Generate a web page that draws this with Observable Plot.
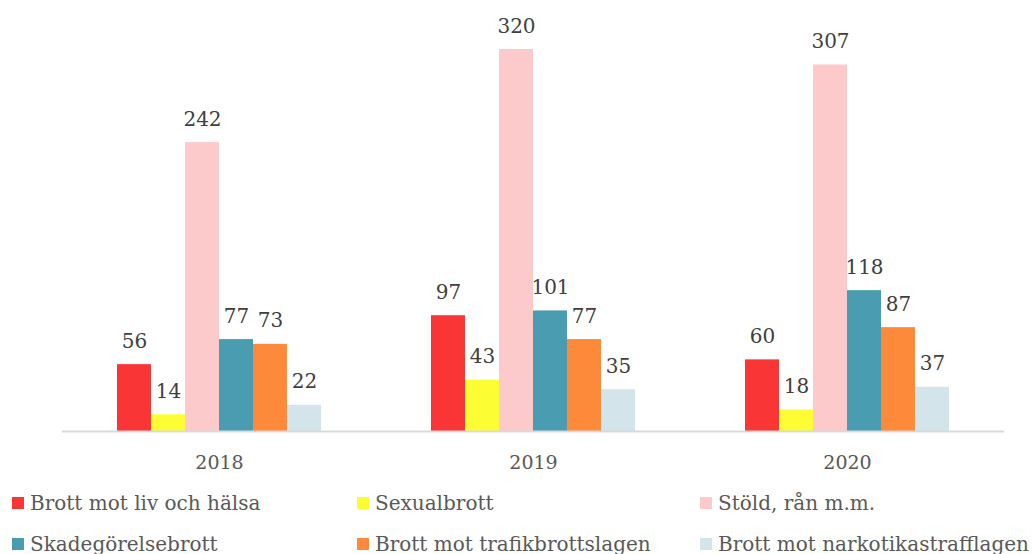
<!DOCTYPE html>
<html>
<head>
<meta charset="utf-8">
<script src="https://cdn.jsdelivr.net/npm/d3@7"></script>
<script src="https://cdn.jsdelivr.net/npm/@observablehq/plot@0.6"></script>
<style>
  body { margin: 0; background: #fff; font-family: "DejaVu Serif", serif; }
  #legend { display: grid; grid-template-columns: 345px 343px 344px; row-gap: 17px; margin-top: 11px; }
  .item { display: flex; align-items: center; font-size: 20px; color: #595959; padding-left: 12px; height: 24px; white-space: nowrap; }
  .sw { width: 12px; height: 12px; margin-right: 6px; flex: none; }
</style>
</head>
<body>
<div id="chart"></div>
<div id="legend"></div>
<script>
const years = ["2018", "2019", "2020"];
const categories = ["Brott mot liv och hälsa", "Sexualbrott", "Stöld, rån m.m.", "Skadegörelsebrott", "Brott mot trafikbrottslagen", "Brott mot narkotikastrafflagen"];
const colors = ["#f93535", "#fdfd33", "#fccaca", "#4a9db0", "#fd8a3b", "#d3e5eb"];
const values2018 = [56, 14, 242, 77, 73, 22];
const values2019 = [97, 43, 320, 101, 77, 35];
const values2020 = [60, 18, 307, 118, 87, 37];
const seriesByYear = [values2018, values2019, values2020];

const data = [];
years.forEach((y, i) => categories.forEach((c, j) => data.push({year: y, cat: c, value: seriesByYear[i][j]})));

const chart = Plot.plot({
  width: 1032,
  height: 480,
  marginLeft: 61,
  marginRight: 27,
  marginTop: 49,
  marginBottom: 49,
  style: {fontFamily: "DejaVu Serif, serif", color: "#595959", background: "#fff"},
  fx: {domain: years, padding: 0, label: null},
  x: {domain: categories, paddingInner: 0, paddingOuter: 1.575, axis: null},
  y: {domain: [0, 320], axis: null},
  color: {domain: categories, range: colors},
  marks: [
    Plot.axisFx({anchor: "bottom", tickSize: 0, tickPadding: 24, fontSize: 19, label: null, fill: "#595959"}),
    Plot.barY(data, {fx: "year", x: "cat", y: "value", fill: "cat", inset: 0}),
    Plot.text(data, {fx: "year", x: "cat", y: "value", text: d => String(d.value), lineAnchor: "bottom", dy: -17, fontSize: 20, fill: "#404040"}),
    Plot.ruleY([0], {stroke: "#d9d9d9", strokeWidth: 2})
  ]
});
document.getElementById("chart").appendChild(chart);

const legend = document.getElementById("legend");
categories.forEach((c, i) => {
  const d = document.createElement("div");
  d.className = "item";
  d.innerHTML = `<span class="sw" style="background:${colors[i]}"></span><span>${c}</span>`;
  legend.appendChild(d);
});
</script>
</body>
</html>
